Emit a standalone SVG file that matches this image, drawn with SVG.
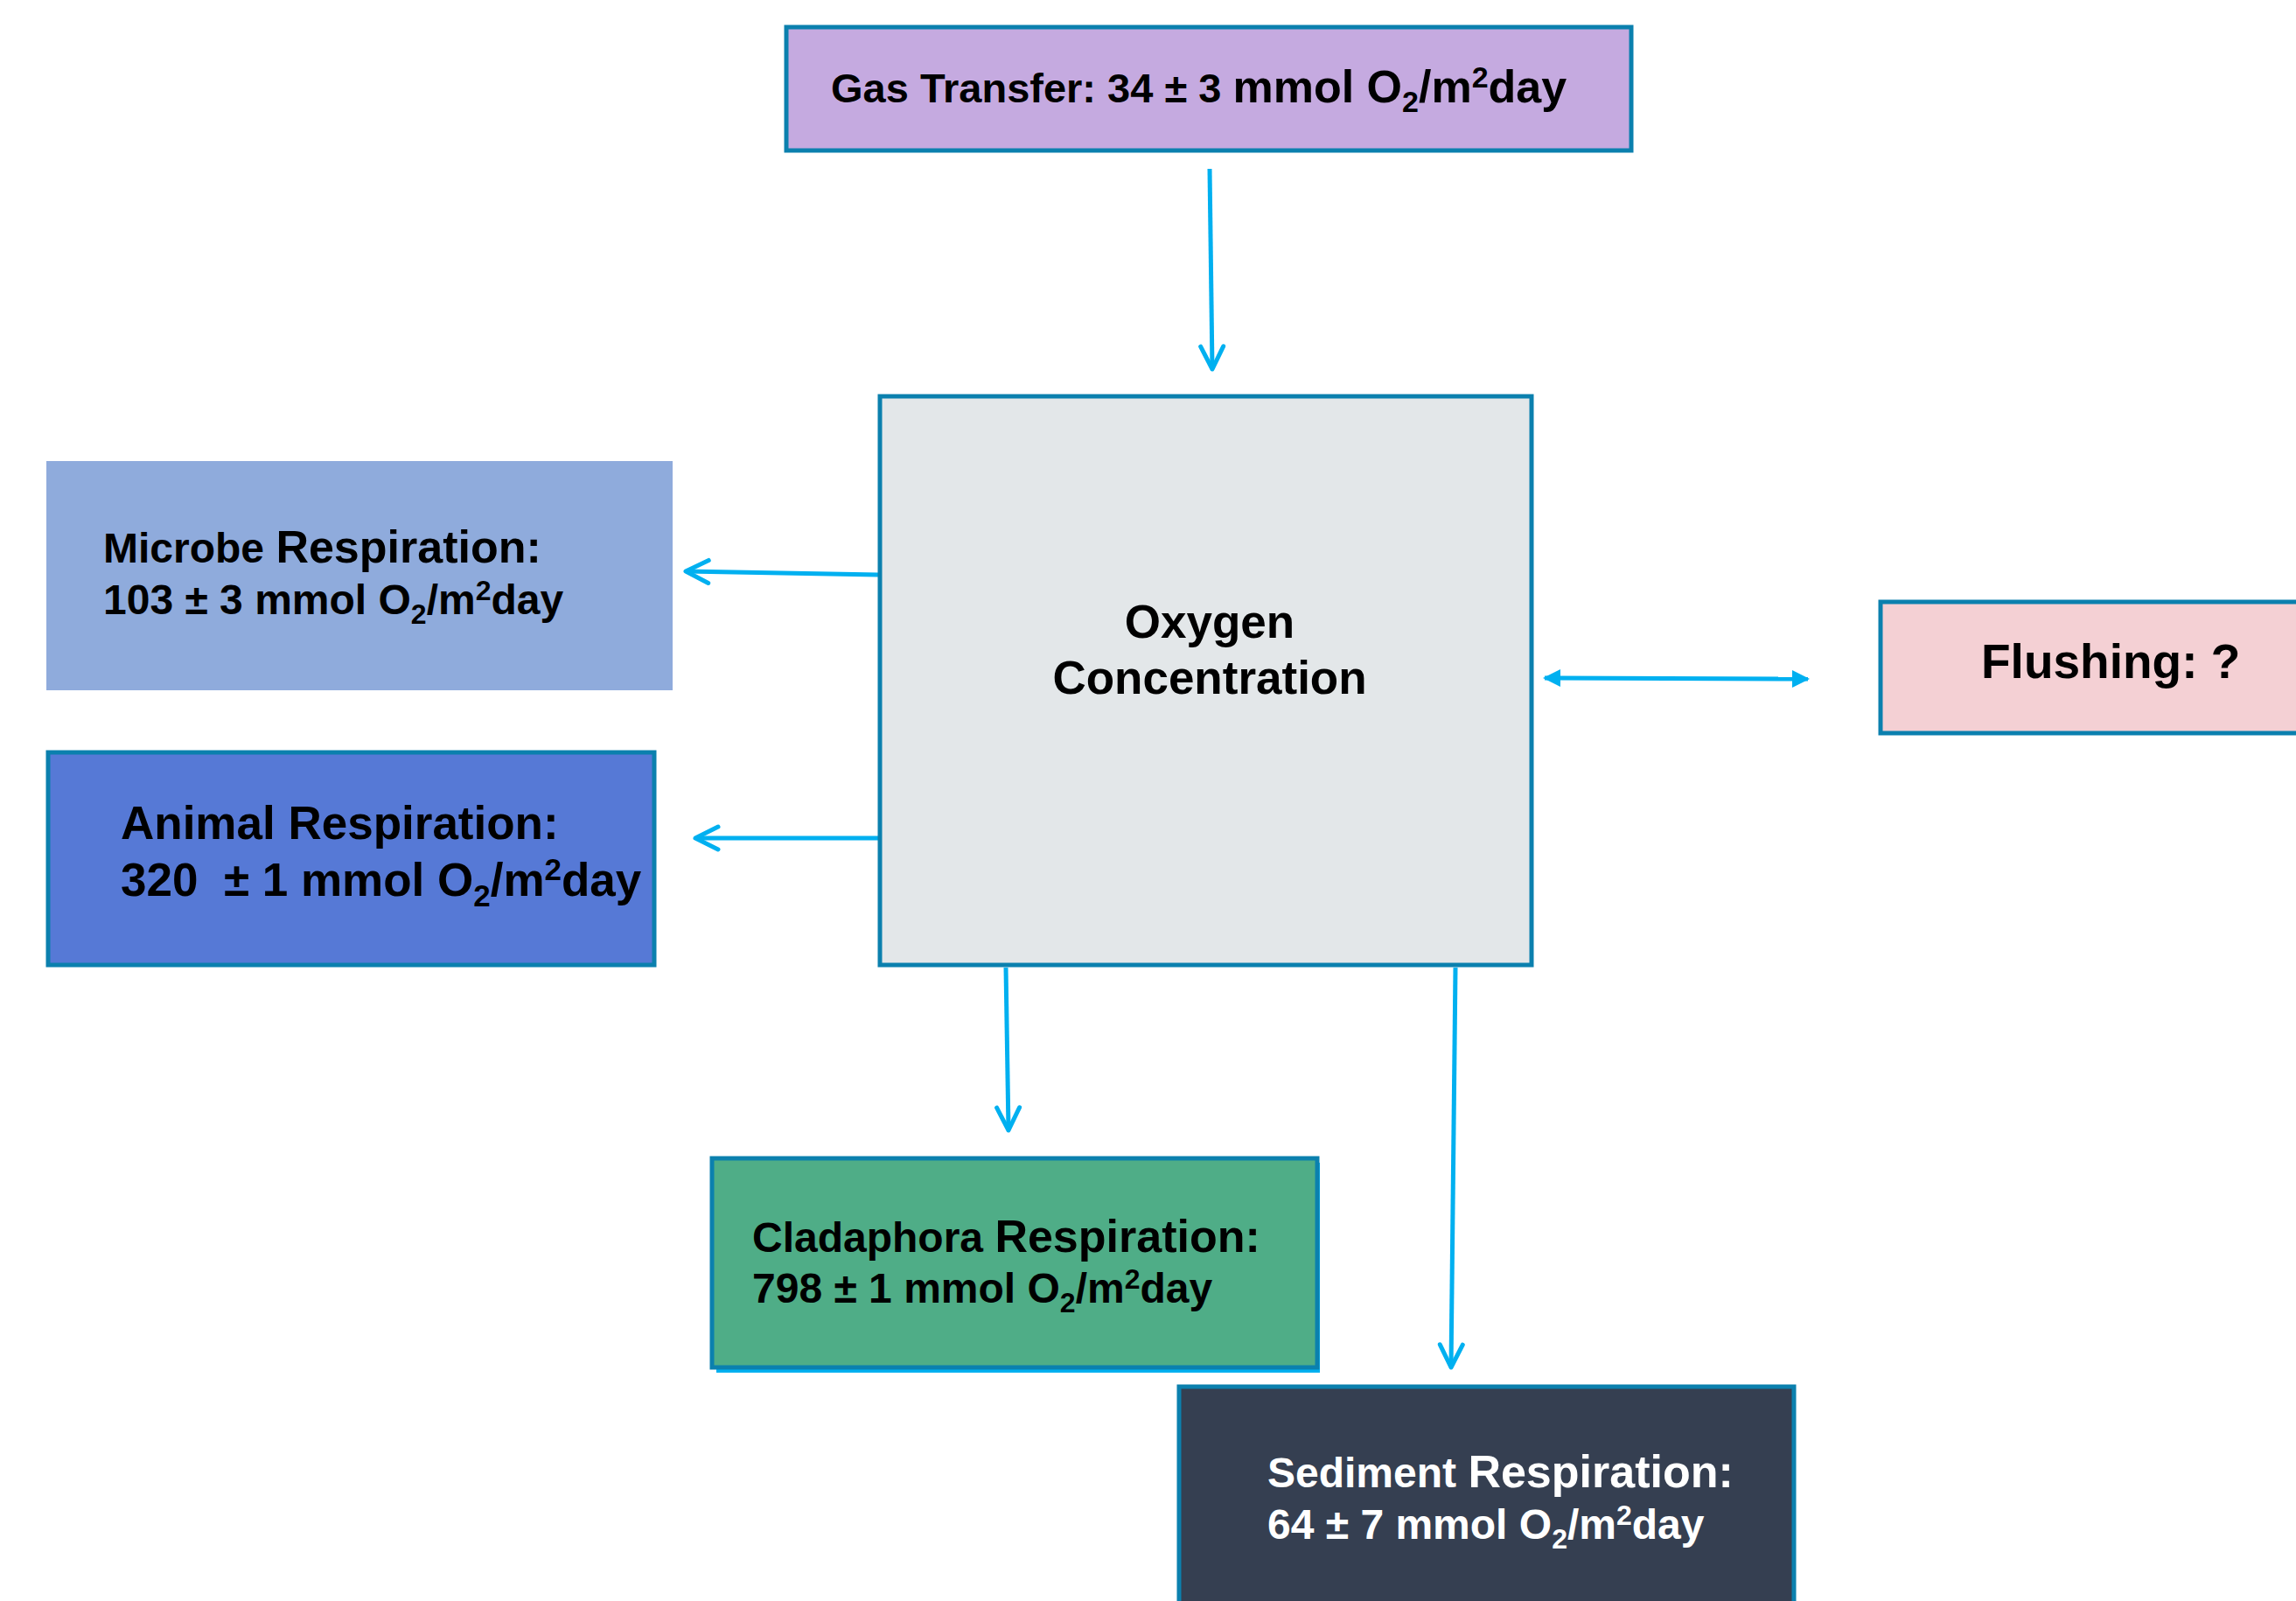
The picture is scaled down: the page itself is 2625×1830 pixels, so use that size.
<svg xmlns="http://www.w3.org/2000/svg" width="2625" height="1830" viewBox="0 0 2625 1830">
<defs>
<style>
.box{stroke:#0B80AE;stroke-width:5}
.t{font-family:"Liberation Sans",Arial,sans-serif;font-weight:bold;fill:#000}
.w{fill:#fff}
.arr{stroke:#00B0F0;stroke-width:5;fill:none}
</style>
<marker id="chev" markerUnits="userSpaceOnUse" viewBox="-30 -16 34 32" refX="0" refY="0" markerWidth="34" markerHeight="32" orient="auto" overflow="visible">
<path d="M -26 -13 L 0 0 L -26 13" fill="none" stroke="#00B0F0" stroke-width="5" stroke-linecap="round" stroke-linejoin="round"/>
</marker>
<marker id="tri" markerUnits="userSpaceOnUse" viewBox="-20 -12 22 24" refX="0" refY="0" markerWidth="22" markerHeight="24" orient="auto-start-reverse" overflow="visible">
<path d="M -18 -10 L 2 0 L -18 10 Z" fill="#00B0F0"/>
</marker>
</defs>
<rect width="2625" height="1830" fill="#fff"/>

<g id="connectors">
<line class="arr" x1="1383" y1="193" x2="1386" y2="422" marker-end="url(#chev)"/>
<line class="arr" x1="1004" y1="657" x2="784" y2="653" marker-end="url(#chev)"/>
<line class="arr" x1="1004" y1="958" x2="795" y2="958" marker-end="url(#chev)"/>
<line class="arr" x1="1766" y1="775" x2="2067" y2="776" marker-start="url(#tri)" marker-end="url(#tri)"/>
<line class="arr" x1="1150" y1="1106" x2="1153" y2="1292" marker-end="url(#chev)"/>
<line class="arr" x1="1664" y1="1106" x2="1659" y2="1563" marker-end="url(#chev)"/>
</g>

<g id="gas-transfer">
<rect class="box" x="899" y="31" width="966" height="141" fill="#C5AAE0"/>
<text class="t" x="950" y="117"><tspan font-size="47">Gas Transfer: 34 ± 3 </tspan><tspan font-size="52">mmol O</tspan><tspan font-size="34" dy="11">2</tspan><tspan font-size="52" dy="-11">/m</tspan><tspan font-size="34" dy="-17">2</tspan><tspan font-size="52" dy="17">day</tspan></text>
</g>

<g id="oxygen">
<rect class="box" x="1006" y="453" width="745" height="650" fill="#E3E7E9"/>
<text class="t" x="1383" y="729" font-size="53" text-anchor="middle">Oxygen</text>
<text class="t" x="1383" y="793" font-size="53" text-anchor="middle">Concentration</text>
</g>

<g id="microbe">
<rect x="53" y="527" width="716" height="262" fill="#8FABDC"/>
<text class="t" x="118" y="643"><tspan font-size="48">Microbe </tspan><tspan font-size="52">Respiration:</tspan></text>
<text class="t" x="118" y="702" font-size="48">103 ± 3 mmol O<tspan font-size="32" dy="11">2</tspan><tspan dy="-11">/m</tspan><tspan font-size="32" dy="-16">2</tspan><tspan dy="16">day</tspan></text>
</g>

<g id="animal">
<rect class="box" x="55" y="860" width="693" height="243" fill="#5679D6"/>
<text class="t" x="138" y="959" font-size="53">Animal Respiration:</text>
<text class="t" x="138" y="1024" font-size="53" xml:space="preserve">320  ± 1 mmol O<tspan font-size="35" dy="12">2</tspan><tspan dy="-12">/m</tspan><tspan font-size="35" dy="-18">2</tspan><tspan dy="18">day</tspan></text>
</g>

<g id="flushing">
<rect class="box" x="2150" y="688" width="500" height="150" fill="#F4D0D4"/>
<text class="t" x="2265" y="775" font-size="55">Flushing: ?</text>
</g>

<g id="cladaphora">
<rect x="819" y="1329" width="690" height="240" fill="#00B0F0"/>
<rect class="box" x="814" y="1324" width="692" height="239" fill="#4FAD87"/>
<text class="t" x="860" y="1431"><tspan font-size="48">Cladaphora </tspan><tspan font-size="52">Respiration:</tspan></text>
<text class="t" x="860" y="1489" font-size="48">798 ± 1 mmol O<tspan font-size="32" dy="11">2</tspan><tspan dy="-11">/m</tspan><tspan font-size="32" dy="-16">2</tspan><tspan dy="16">day</tspan></text>
</g>

<g id="sediment">
<rect class="box" x="1348" y="1585" width="703" height="260" fill="#353F51"/>
<text class="t w" x="1449" y="1700"><tspan font-size="48">Sediment </tspan><tspan font-size="52">Respiration:</tspan></text>
<text class="t w" x="1449" y="1759" font-size="48">64 ± 7 mmol O<tspan font-size="32" dy="11">2</tspan><tspan dy="-11">/m</tspan><tspan font-size="32" dy="-16">2</tspan><tspan dy="16">day</tspan></text>
</g>
</svg>
